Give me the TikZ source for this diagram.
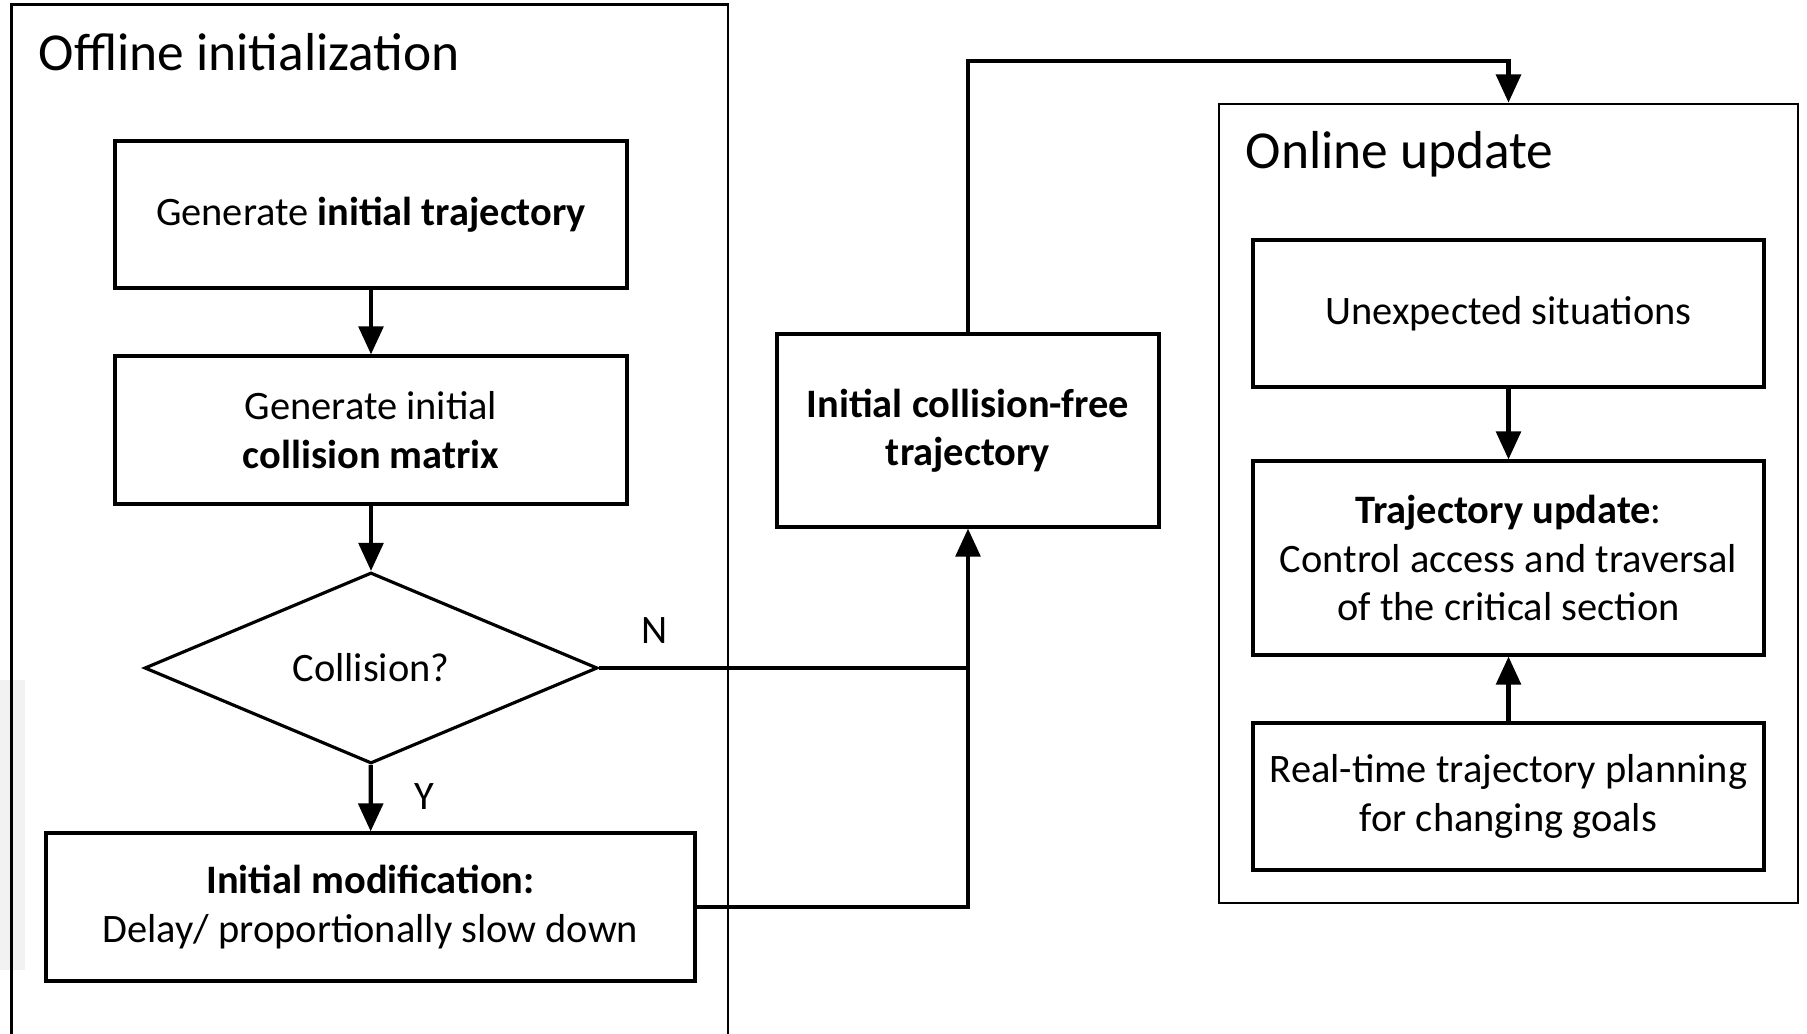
\documentclass[tikz,border=0pt]{standalone}
\usepackage{fontspec}
\setmainfont{Carlito}
\usetikzlibrary{shapes.geometric,arrows.meta}
\tikzset{
  stepbox/.style={draw, line width=0.9pt, align=center, inner sep=2pt, font=\fontsize{11.5}{13.8}\selectfont},
  decision/.style={draw, diamond, aspect=2.4, line width=0.9pt, inner sep=0pt, minimum width=4.53cm, minimum height=1.91cm, font=\fontsize{11.5}{13.8}\selectfont},
  group/.style={draw, line width=0.8pt},
  grouptitle/.style={anchor=base west, inner sep=0pt, font=\fontsize{15.2}{18}\selectfont},
  flow/.style={line width=1.2pt},
  arrow/.style={flow, -{Triangle[length=8pt,width=7pt]}},
  branch/.style={inner sep=0pt, font=\fontsize{11.5}{14}\selectfont}
}
\begin{document}
\begin{tikzpicture}[x=1cm,y=1cm]
\useasboundingbox (0,0) rectangle (18.07,-10.34);
\fill[gray!10] (0,-6.8) rectangle (0.25,-9.7);
% offline part
\draw[group] (0.115,-10.6) |- (7.28,-0.046) -- (7.28,-10.6);
\node[grouptitle] (Offline_Title) at (0.38,-0.71) {Offline initialization};
\node[stepbox, minimum width=5.12cm, minimum height=1.47cm] (Generate_Trajectory) at (3.71,-2.145) {Generate \textbf{initial trajectory}};
\node[stepbox, minimum width=5.12cm, minimum height=1.48cm] (Generate_Matrix) at (3.71,-4.30) {Generate initial\\\textbf{collision matrix}};
\node[decision] (Collision_Check) at (3.71,-6.68) {Collision?};
\node[stepbox, minimum width=6.49cm, minimum height=1.48cm] (Initial_Modification) at (3.705,-9.07) {\textbf{Initial modification:}\\Delay/ proportionally slow down};
\node[branch] (Yes_Label) at (4.24,-7.97) {Y};
\node[branch] (No_Label) at (6.55,-6.31) {N};
% result
\node[stepbox, minimum width=3.82cm, minimum height=1.93cm] (Collision_Free) at (9.68,-4.305) {\textbf{Initial collision-free}\\\textbf{trajectory}};
% online part
\node[group, minimum width=5.79cm, minimum height=7.99cm] (Online_Update) at (15.085,-5.035) {};
\node[grouptitle] (Online_Title) at (12.45,-1.69) {Online update};
\node[stepbox, minimum width=5.11cm, minimum height=1.47cm] (Unexpected_Situations) at (15.085,-3.135) {Unexpected situations};
\node[stepbox, minimum width=5.11cm, minimum height=1.94cm] (Trajectory_Update) at (15.085,-5.58) {\textbf{Trajectory update}:\\Control access and traversal\\of the critical section};
\node[stepbox, minimum width=5.11cm, minimum height=1.47cm] (Realtime_Planning) at (15.085,-7.965) {Real-time trajectory planning\\for changing goals};
\coordinate (Top_Corner) at (15.085,-0.61);
% connectors
\draw[arrow] (Generate_Trajectory) -- (Generate_Matrix);
\draw[arrow] (Generate_Matrix) -- (Collision_Check);
\draw[arrow] (Collision_Check) -- (Initial_Modification);
\draw[flow] (Collision_Check.east) -- (Collision_Check.east -| Collision_Free.south);
\draw[arrow] (Initial_Modification.east) -| (Collision_Free.south);
\draw[arrow] (Collision_Free.north) |- (Top_Corner) -- (Online_Update.north);
\draw[arrow] (Unexpected_Situations) -- (Trajectory_Update);
\draw[arrow] (Realtime_Planning) -- (Trajectory_Update);
\end{tikzpicture}
\end{document}
